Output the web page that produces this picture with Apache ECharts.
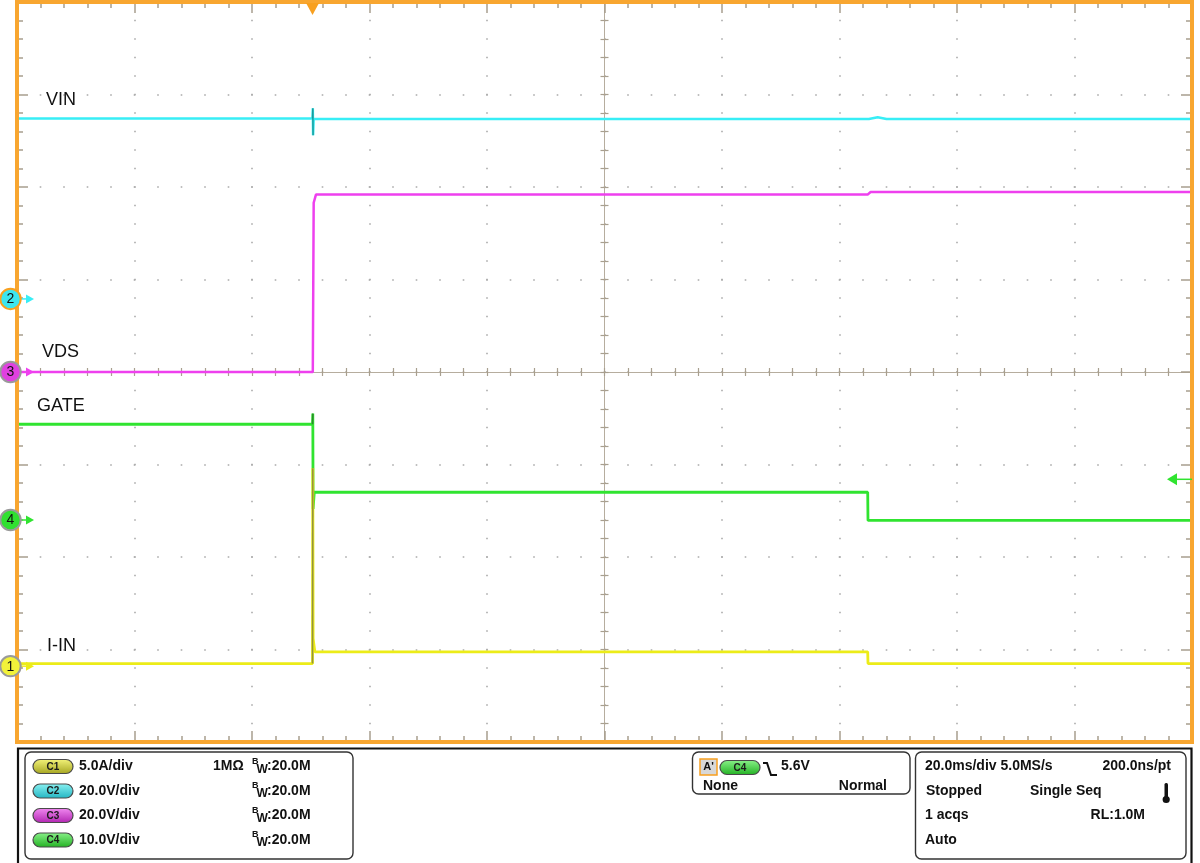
<!DOCTYPE html>
<html><head><meta charset="utf-8">
<script src="https://cdn.jsdelivr.net/npm/echarts@6/dist/echarts.min.js"></script>
<style>html,body{margin:0;padding:0;background:#fff}#c{width:1200px;height:863px}</style>
</head><body><div id="c"></div>
<script>
// ---------------- DATA ----------------
// time axis (ms, relative to screen centre), 20 ms/div, 10 divisions
const timeMin = -100, timeMax = 100, timeStep = 20;
// vertical axis in divisions
const divMin = -4, divMax = 4, divStep = 1;

// channels: C1 = I-IN, C2 = VIN, C3 = VDS, C4 = GATE
const channelNames  = ['C1', 'C2', 'C3', 'C4'];
const channelScales = [5, 20, 20, 10];          // units per division
const channelOffsetDiv = [-3.18, 0.79, 0.0, -1.6]; // ground marker positions (div)
const channelLabels = ['I-IN', 'VIN', 'VDS', 'GATE'];

// VIN (C2, volts)
const vinT = [-100, -49.7, -49.65, -49.6, -49.5, 45, 46.5, 48, 100];
const vinV = [39.0, 39.0, 41.2, 35.4, 38.9, 38.9, 39.3, 38.9, 38.9];
// VDS (C3, volts)
const vdsT = [-100, -49.65, -49.5, -49.1, 44.8, 45.3, 100];
const vdsV = [0.0, 0.0, 36.6, 38.4, 38.4, 38.9, 38.9];
// GATE (C4, volts)
const gateT = [-100, -49.7, -49.65, -49.6, -49.4, 44.8, 44.85, 100];
const gateV = [10.35, 10.35, 11.5, 1.2, 3.0, 3.0, -0.05, -0.05];
// I-IN (C1, amps)
const iinT = [-100, -49.7, -49.65, -49.6, -49.3, 44.8, 44.85, 100];
const iinA = [0.14, 0.14, 10.7, 1.5, 0.77, 0.77, 0.14, 0.14];

// trigger
const triggerTimeMs = -49.7;
const trigArrowLevelV = 4.4; // on C4

// ---------------- CHART ----------------
const chart = echarts.init(document.getElementById('c'), null, {renderer: 'canvas'});
const toDiv = (v, ch) => v / channelScales[ch] + channelOffsetDiv[ch];
const pts = (T, V, ch) => T.map((t, i) => [t, toDiv(V[i], ch)]);

const tickColor = '#a89f8f';
const dotColor = '#aaaaaa';
const FONT = '"Liberation Sans", Arial, sans-serif';
const PF = 'bold 14px ' + FONT;

function edgeAxis(pos, isX, withSplit) {
  const o = {
    type: 'value', position: pos,
    min: isX ? timeMin : divMin, max: isX ? timeMax : divMax, interval: isX ? timeStep : divStep,
    axisLine: {show: false, onZero: false},
    axisTick: {show: true, inside: true, length: 11, lineStyle: {color: tickColor, width: 1.5}},
    minorTick: {show: true, splitNumber: 5, length: 6, lineStyle: {color: tickColor, width: 1.5}},
    axisLabel: {show: false},
    splitLine: {show: false}, minorSplitLine: {show: false}
  };
  if (withSplit) {
    o.splitLine = {show: true, lineStyle: {color: dotColor, width: 1.6,
      type: isX ? [1.6, 16.9] : [1.6, 21.9], dashOffset: 0.8}};
  }
  return o;
}
function centerAxis(pos, isX) {
  return {
    type: 'value', position: pos,
    min: isX ? timeMin : divMin, max: isX ? timeMax : divMax, interval: isX ? timeStep : divStep,
    axisLine: {show: true, onZero: true, onZeroAxisIndex: 0, lineStyle: {color: '#b6ad9e', width: 1}},
    axisTick: {show: true, inside: true, length: 4, lineStyle: {color: tickColor, width: 1.2}},
    minorTick: {show: true, splitNumber: 5, length: 4, lineStyle: {color: tickColor, width: 1.2}},
    axisLabel: {show: false}, splitLine: {show: false}
  };
}

const colors = {vin: '#38eef6', vds: '#ee40ee', gate: '#30e430', iin: '#ecec18'};

function line(name, data, color, width, z) {
  return {name, type: 'line', data, symbol: 'none', animation: false, z: z || 2,
    lineStyle: {color, width: width || 2.5}, itemStyle: {color}};
}

const option = {
  animation: false,
  backgroundColor: '#ffffff',
  grid: {left: 17, right: 8, top: 2, bottom: 121, show: false},
  xAxis: [edgeAxis('bottom', true, true), edgeAxis('top', true, false), centerAxis('bottom', true), centerAxis('top', true)],
  yAxis: [edgeAxis('left', false, true), edgeAxis('right', false, false), centerAxis('left', false), centerAxis('right', false)],
  series: [
    line('VIN', pts(vinT, vinV, 1), colors.vin, 2.5, 3),
    line('VIN edge', pts(vinT.slice(1, 4), vinV.slice(1, 4), 1), '#1a9c9c', 1.5, 4),
    line('VDS', pts(vdsT, vdsV, 2), colors.vds, 2.5, 3),
    line('GATE', pts(gateT, gateV, 3), colors.gate, 2.8, 3),
    line('I-IN', pts(iinT, iinA, 0), colors.iin, 2.8, 3),
    line('I-IN edge', pts(iinT.slice(1, 3), iinA.slice(1, 3), 0), '#94943a', 1.6, 4),
    line('GATE edge', pts(gateT.slice(1, 3), gateV.slice(1, 3), 3), '#2a8c2a', 1.6, 5)
  ]
};
chart.setOption(option);

// ---------------- GRAPHIC OVERLAY ----------------
const px = (t, d) => chart.convertToPixel({gridIndex: 0}, [t, d]);
const G = [];
function txt(t, x, y, font, align, fill) {
  G.push({type: 'text', z: 100, silent: true,
    style: {text: t, x, y, font: font || PF, align: align || 'left', verticalAlign: 'middle', fill: fill || '#111'}});
}
function grad(c1, c2) {
  return new echarts.graphic.LinearGradient(0, 0, 0, 1, [{offset: 0, color: c1}, {offset: 1, color: c2}]);
}
function pill(x, y, label, c1, c2) {
  G.push({type: 'rect', z: 100, shape: {x, y, width: 40, height: 14, r: 7},
    style: {fill: grad(c1, c2), stroke: '#4a4a4a', lineWidth: 1.2}});
  txt(label, x + 20, y + 7.5, 'bold 10px ' + FONT, 'center', '#1a1a1a');
}

// orange frame
const tl = px(timeMin, divMax), br = px(timeMax, divMin);
G.push({type: 'rect', z: 60, shape: {x: tl[0], y: tl[1], width: br[0] - tl[0], height: br[1] - tl[1]},
  style: {fill: null, stroke: '#f8a630', lineWidth: 4}});

// trigger position marker (top)
const tp = px(triggerTimeMs, divMax);
G.push({type: 'polygon', z: 70, shape: {points: [[tp[0] - 6.5, tp[1] + 1], [tp[0] + 6.5, tp[1] + 1], [tp[0], tp[1] + 13]]},
  style: {fill: '#f8a020'}});

// trigger level arrow (right)
const ta = px(timeMax, toDiv(trigArrowLevelV, 3));
G.push({type: 'line', z: 70, shape: {x1: ta[0] - 16, y1: ta[1], x2: ta[0], y2: ta[1]}, style: {stroke: colors.gate, lineWidth: 1.5}});
G.push({type: 'polygon', z: 70, shape: {points: [[ta[0] - 25, ta[1]], [ta[0] - 15, ta[1] - 6], [ta[0] - 15, ta[1] + 6]]}, style: {fill: colors.gate}});

// channel ground markers
const markerFill = ['#f2f23a', '#3ce6ef', '#e040e0', '#30e030'];
const markerStroke = ['#9a9a9a', '#f8a020', '#9a9a9a', '#9a9a9a'];
const arrowCol = [colors.iin, colors.vin, colors.vds, colors.gate];
[1, 2, 3, 0].forEach(ch => {
  const p = px(timeMin, channelOffsetDiv[ch]);
  const y = p[1];
  G.push({type: 'line', z: 80, shape: {x1: 20, y1: y, x2: 28, y2: y}, style: {stroke: arrowCol[ch], lineWidth: 1.5}});
  G.push({type: 'polygon', z: 80, shape: {points: [[34, y], [26, y - 4.5], [26, y + 4.5]]}, style: {fill: arrowCol[ch]}});
  G.push({type: 'circle', z: 90, shape: {cx: 10.5, cy: y, r: 10.2}, style: {fill: markerFill[ch], stroke: markerStroke[ch], lineWidth: 2}});
  txt(String(ch + 1), 10.5, y + 0.5, '14px ' + FONT, 'center', '#111');
});

// trace labels
const LF = '18px ' + FONT;
txt('VIN', 46, 100, LF); txt('VDS', 42, 352, LF); txt('GATE', 37, 406, LF); txt('I-IN', 47, 646, LF);

// ---------------- BOTTOM INFO PANEL ----------------
G.push({type: 'rect', z: 50, shape: {x: 18, y: 748.5, width: 1173.5, height: 130}, style: {fill: '#fff', stroke: '#111', lineWidth: 2.2}});
G.push({type: 'rect', z: 51, shape: {x: 25, y: 752, width: 328, height: 107, r: 6}, style: {fill: '#fff', stroke: '#333', lineWidth: 1.4}});
G.push({type: 'rect', z: 51, shape: {x: 692.5, y: 752, width: 217.5, height: 42, r: 6}, style: {fill: '#fff', stroke: '#333', lineWidth: 1.4}});
G.push({type: 'rect', z: 51, shape: {x: 915.5, y: 752, width: 270.5, height: 107, r: 6}, style: {fill: '#fff', stroke: '#333', lineWidth: 1.4}});

const rowsY = [766.5, 791, 815.5, 840];
const pillCols = [['#f4f47a', '#a4a420'], ['#8af2f2', '#22b4c2'], ['#f28af2', '#b024b0'], ['#8af28a', '#22b022']];
channelNames.forEach((n, i) => {
  pill(33, rowsY[i] - 7, n, pillCols[i][0], pillCols[i][1]);
  txt(channelScales[i].toFixed(1) + (i === 0 ? 'A' : 'V') + '/div', 79, rowsY[i]);
  txt('B', 252, rowsY[i] - 5, 'bold 9px ' + FONT);
  txt('W', 256.5, rowsY[i] + 3, 'bold 12px ' + FONT);
  txt(':20.0M', 267, rowsY[i]);
});
txt('1M\u03A9', 213, rowsY[0]);

// trigger box
G.push({type: 'rect', z: 100, shape: {x: 700, y: 759, width: 17, height: 16}, style: {fill: '#d8d8d8', stroke: '#f8a020', lineWidth: 1.5}});
txt("A'", 708.5, 767, 'bold 11px ' + FONT, 'center');
pill(720, 760.5, 'C4', '#8af28a', '#22b022');
G.push({type: 'polyline', z: 100, shape: {points: [[763, 763], [767, 763], [771, 775], [777, 775]]}, style: {stroke: '#111', lineWidth: 2, fill: null}});
txt('5.6V', 781, 766.5);
txt('None', 703, 786.5);
txt('Normal', 887, 786.5, PF, 'right');

// timebase box
txt('20.0ms/div 5.0MS/s', 925, 766.5);
txt('200.0ns/pt', 1171, 766.5, PF, 'right');
txt('Stopped', 926, 791);
txt('Single Seq', 1030, 791);
txt('1 acqs', 925, 815.5);
txt('RL:1.0M', 1145, 815.5, PF, 'right');
txt('Auto', 925, 840);
G.push({type: 'rect', z: 100, shape: {x: 1164.5, y: 783, width: 3.5, height: 15, r: 1.5}, style: {fill: '#111'}});
G.push({type: 'circle', z: 100, shape: {cx: 1166.2, cy: 799.5, r: 3.6}, style: {fill: '#111'}});

chart.setOption({graphic: {elements: G}});
</script>
</body></html>
